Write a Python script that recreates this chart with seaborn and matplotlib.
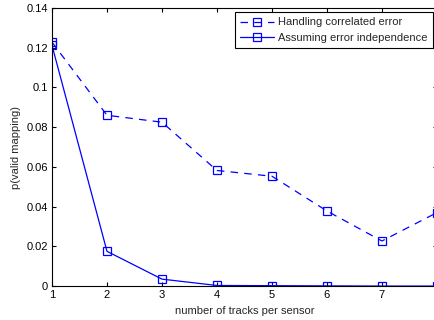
import matplotlib
matplotlib.use("Agg")
import matplotlib.pyplot as plt
import seaborn as sns
import pandas as pd

tracks = [1, 2, 3, 4, 5, 6, 7, 8]
correlated = [0.1228, 0.0860, 0.0825, 0.0582, 0.0553, 0.0378, 0.0227, 0.0370]
independent = [0.1212, 0.0175, 0.0035, 0.0003, 0.0002, 0.0001, 0.0000, 0.0000]
labels = ["Handling correlated error", "Assuming error independence"]
yticks = [0, 0.02, 0.04, 0.06, 0.08, 0.1, 0.12, 0.14]
yticklabels = ["0", "0.02", "0.04", "0.06", "0.08", "0.1", "0.12", "0.14"]
xticks = [1, 2, 3, 4, 5, 6, 7]

sns.set_style("ticks")
plt.rcParams['font.family'] = ['Liberation Sans', 'DejaVu Sans']

df = pd.concat([
    pd.DataFrame({"x": tracks, "y": correlated, "series": labels[0]}),
    pd.DataFrame({"x": tracks, "y": independent, "series": labels[1]}),
])

fig = plt.figure(figsize=(4.35, 3.2), dpi=100)
ax = fig.add_axes([0.1195, 0.106, 0.885, 0.869])

blue = (0, 0, 1)
for lab, ls in zip(labels, [(0, (6, 5)), "-"]):
    sub = df[df["series"] == lab]
    sns.lineplot(data=sub, x="x", y="y", ax=ax, color=blue, linewidth=0.9,
                 linestyle=ls, marker="s", markersize=5.5,
                 markerfacecolor="none", markeredgecolor=blue,
                 markeredgewidth=0.9, label=lab)

ax.set_xlim(1, 8)
ax.set_ylim(0, 0.14)
ax.set_xticks(xticks)
ax.set_xticklabels([str(t) for t in xticks])
ax.set_yticks(yticks)
ax.set_yticklabels(yticklabels)
ax.tick_params(direction="in", length=3, width=0.8, labelsize=8,
               top=True, right=True, colors="black", pad=3)
for s in ax.spines.values():
    s.set_linewidth(0.8)
    s.set_color("black")
ax.set_xlabel("number of tracks per sensor", fontsize=8, labelpad=4)
ax.set_ylabel("p(valid mapping)", fontsize=8, labelpad=4)

leg = ax.legend(loc="upper right", fontsize=8, frameon=True, fancybox=False,
                edgecolor="black", framealpha=1, handlelength=3.0,
                borderpad=0.45, labelspacing=0.5, handletextpad=0.4,
                borderaxespad=0.4)
leg.get_frame().set_linewidth(0.8)

fig.savefig("out.png", dpi=100)
